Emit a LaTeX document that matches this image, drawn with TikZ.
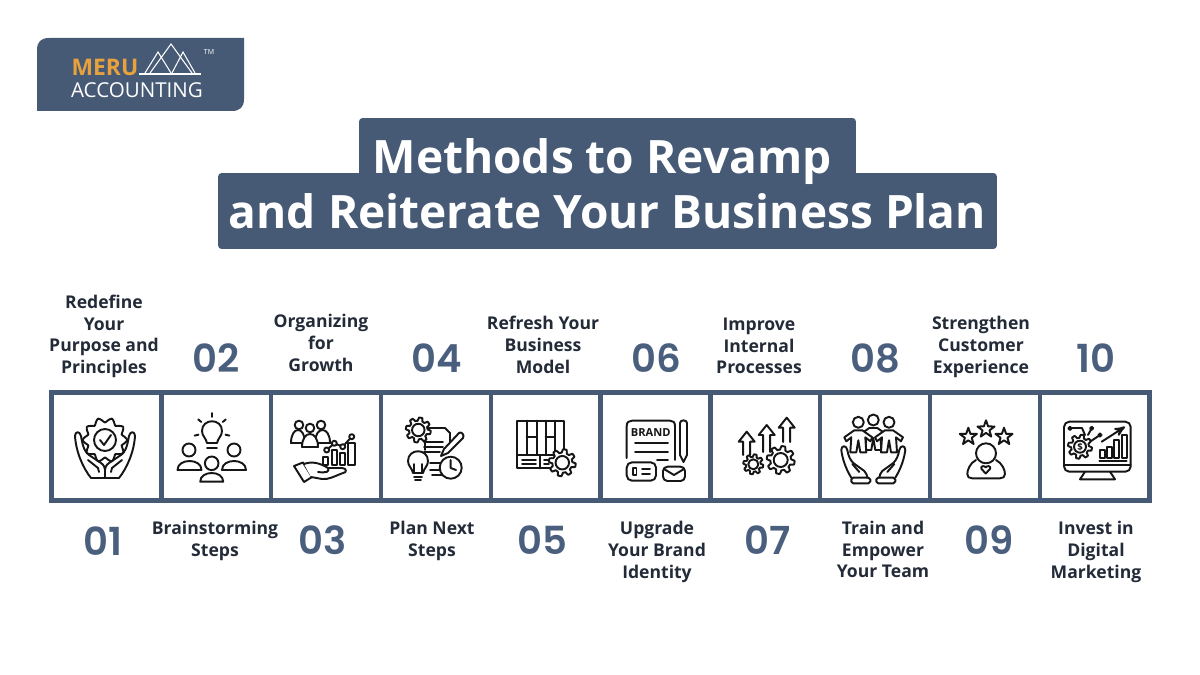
\documentclass[tikz,border=0pt]{standalone}
\usepackage{fontspec}
\setmainfont{Open Sans}
\newfontfamily\numfont{Poppins SemiBold}
\usetikzlibrary{arrows}
\definecolor{slateblue}{HTML}{465A76}
\definecolor{numblue}{HTML}{4A5F7D}
\definecolor{labelblue}{HTML}{232B38}
\definecolor{meruorange}{HTML}{E9A23B}
\definecolor{iconink}{HTML}{161616}
\tikzset{
 iconline/.style={iconink, line width=1.1pt, line join=round, line cap=round},
 cellbox/.style={draw=slateblue, line width=.085cm, fill=white, minimum width=2.196cm, minimum height=2.16cm, inner sep=0pt},
 banner/.style={fill=slateblue, rounded corners=2pt, inner sep=0pt},
 titletext/.style={white, inner sep=0pt, font=\fontsize{26.2}{30}\selectfont\bfseries},
 steplabel/.style={labelblue, align=center, inner sep=0pt, font=\fontsize{10}{12.35}\selectfont\bfseries},
 stepnum/.style={numblue, inner sep=0pt, font=\numfont\fontsize{22}{24}\selectfont},
}
\newcommand{\gearicon}[3]{
 \draw[iconline, fill=white] plot[domain=0:360, samples=97]
  ({#1+#3*(.87+.13*max(-1,min(1,2*sin(8*\x))))*cos(\x)},{#2+#3*(.87+.13*max(-1,min(1,2*sin(8*\x))))*sin(\x)}) -- cycle;
 \draw[iconline] (#1,#2) circle ({.5*#3});
}
\newcommand{\domeicon}[4]{
 \draw[iconline, fill=white] ({#1-#3},#4) .. controls ({#1-#3},{#4-(#4-#2)*4/3}) and ({#1+#3},{#4-(#4-#2)*4/3}) .. ({#1+#3},#4) -- cycle;
}
\newcommand{\staricon}[3]{
 \draw[iconline] plot[domain=0:360, samples=11] ({#1+#3*(.7+.3*cos(5*\x))*cos(\x-90)},{#2+#3*(.7+.3*cos(5*\x))*sin(\x-90)}) -- cycle;
}
\newcommand{\bulbicon}[3]{
 \draw[iconline, fill=white] ({#1-.5*#3},{#2+1.2*#3}) .. controls ({#1-.6*#3},{#2+.7*#3}) and ({#1-#3},{#2+.5*#3}) .. ({#1-#3},#2)
  .. controls ({#1-#3},{#2-1.3*#3}) and ({#1+#3},{#2-1.3*#3}) .. ({#1+#3},#2)
  .. controls ({#1+#3},{#2+.5*#3}) and ({#1+.6*#3},{#2+.7*#3}) .. ({#1+.5*#3},{#2+1.2*#3}) -- cycle;
}
\newcommand{\handicon}{
 \draw[iconline] (0,478) -- (-14,478) .. controls (-22,468) and (-29,452) .. (-30,436) .. controls (-30,431) and (-25,431) .. (-24,436)
  .. controls (-22,448) and (-20,452) .. (-16,455) -- (-4,463) .. controls (-1,465) and (0,468) .. (0,470);
 \draw[iconline] (-17,460) -- (-7,468) -- (-6,472);
}
\newcommand{\figureicon}[2]{
 \draw[iconline, fill=white] (#1,#2) circle (5.5);
 \draw[iconline, fill=white] ({#1-4},{#2+8}) -- ({#1-14},{#2+15}) -- ({#1-12},{#2+19}) -- ({#1-7},{#2+15}) -- ({#1-8},{#2+30})
  -- ({#1-2},{#2+30}) -- (#1,{#2+18}) -- ({#1+2},{#2+30}) -- ({#1+8},{#2+30}) -- ({#1+7},{#2+15}) -- ({#1+12},{#2+19}) -- ({#1+14},{#2+15}) -- ({#1+4},{#2+8}) -- cycle;
}
\newcommand{\uparrowicon}[3]{
 \draw[iconline] ({#1-3.5},#3) -- ({#1-3.5},{#2+10}) -- ({#1-8},{#2+10}) -- (#1,#2) -- ({#1+8},{#2+10}) -- ({#1+3.5},{#2+10}) -- ({#1+3.5},#3);
}
\begin{document}
\begin{tikzpicture}[x=.02cm, y=-.02cm]
\useasboundingbox (0,0) rectangle (1200,675);
\fill[white] (0,0) rectangle (1200,675);

% logo
\fill[slateblue] (37,50) .. controls (37,42) and (41,38) .. (49,38) -- (244,38) -- (244,99)
 .. controls (244,107) and (240,111) .. (232,111) -- (37,111) -- cycle;
\node[meruorange, inner sep=0pt, font=\fontsize{13}{15}\selectfont\bfseries] (logomeru) at (105,67) {MERU};
\node[white, inner sep=0pt, font=\fontsize{11.7}{13}\selectfont] (logoname) at (137,90.5) {ACCOUNTING};
\node[white, inner sep=0pt, font=\fontsize{4}{5}\selectfont] (logotm) at (209,52) {TM};
\draw[white, line width=.7pt] (139,74) -- (201,74);
\draw[white, line width=.6pt] (145,73) -- (158,52) -- (171,73) (150,73) -- (171,44) -- (192,73);
\draw[white, line width=.6pt] (172,73) -- (183,52) -- (195,73);

% title
\node[banner, minimum width=9.94cm, minimum height=1.2cm] (bannertop) at (607.5,148) {};
\node[banner, minimum width=15.58cm, minimum height=1.52cm] (bannerbottom) at (607.5,211) {};
\node[titletext] (titleone) at (602,161.5) {Methods to Revamp};
\node[titletext] (titletwo) at (607.5,211) {and Reiterate Your Business Plan};

% boxes
\foreach \n in {1,...,10} {
 \node[cellbox] (box\n) at ({106.5+(\n-1)*109.8},446.5) {};
}

% labels above and below the boxes
\foreach \n/\x/\y/\txt in {
 1/104/336.5/{Redefine\\Your\\Purpose and\\Principles},
 3/321/343/{Organizing\\for\\Growth},
 5/543/345/{Refresh Your\\Business\\Model},
 7/759/346/{Improve\\Internal\\Processes},
 9/981/347/{Strengthen\\Customer\\Experience},
 2/215/541/{Brainstorming\\Steps},
 4/432/541/{Plan Next\\Steps},
 6/657/552/{Upgrade\\Your Brand\\Identity},
 8/883/549.5/{Train and\\Empower\\Your Team},
 10/1096/552/{Invest in\\Digital\\Marketing}} {
 \node[steplabel] (label\n) at (\x,\y) {\txt};
}
\foreach \n/\x/\y in {01/103/541, 02/216/358, 03/323/540, 04/437/358, 05/542/540,
 06/656/358, 07/768/540, 08/875/358, 09/989/540, 10/1096/358} {
 \node[stepnum] (num\n) at (\x,\y) {\n};
}

% icon 1
\draw[iconline] plot[domain=0:360, samples=41, smooth] ({105+(20+2.5*cos(10*\x))*cos(\x)},{440+(20+2.5*cos(10*\x))*sin(\x)}) -- cycle;
\draw[iconline] (105,440) circle (11);
\draw[iconline] (100,440) -- (104,445) -- (111,435);
\foreach \s in {1,-1} {
 \begin{scope}[shift={(105,0)}, xscale=\s]
 \handicon
 \end{scope}
}
\draw[iconline] (105,467) -- (105,478);

% icon 2
\bulbicon{212}{431}{10}
\draw[iconline] (207,448) -- (217,448);
\foreach \a in {-140,-90,-40,15,165} {
 \draw[iconline] ({212+14*cos(\a)},{431+14*sin(\a)}) -- ({212+18*cos(\a)},{431+18*sin(\a)});
}
\draw[iconline] (189,450) circle (6.5) (234,450) circle (6.5);
\domeicon{189.5}{461}{12}{470}
\domeicon{234}{461}{12}{470}
\draw[iconline, fill=white] (211.7,463.3) circle (6.8);
\domeicon{211.7}{473}{11.5}{481.7}

% icon 3
\draw[iconline] (299,425) circle (4.3) (321,425) circle (4.3);
\domeicon{298}{430}{7}{443}
\domeicon{322.5}{430}{7.5}{443}
\draw[iconline, fill=white] (310,428) circle (4.3);
\domeicon{310}{434}{8}{447}
\foreach \l/\t/\r in {323/456.7/328, 332/450/337, 340/453/345, 348/443/355} {
 \draw[iconline, fill=white] (\l,\t) rectangle (\r,465);
}
\draw[iconline] (326.7,450) -- (334.3,443.3) -- (342.7,446.7) -- (351.7,436.7);
\foreach \x/\y in {326.7/450, 334.3/443.3, 342.7/446.7, 351.7/436.7} {
 \draw[iconline, fill=white] (\x,\y) circle (2.5);
}
\draw[iconline] (294,466) -- (303,462.5) -- (312,477) -- (304,482) -- cycle;
\draw[iconline, fill=white] (304,464) .. controls (312,461) and (320,463) .. (328,468) -- (342,468)
 .. controls (347,468) and (347,473) .. (343,473) .. controls (335,476) and (328,480) .. (322,479) -- (311,477);
\draw[iconline] (328,468) .. controls (330,472) and (326,473) .. (318,472);

% icon 4
\draw[iconline] (425,428) -- (445,428) -- (450,433) -- (450,450) (425,428) -- (425,450) (432,475) -- (450,475);
\draw[iconline] (424,441.7) -- (443,441.7) (424,447) -- (443,447) (424,451.7) -- (440,451.7) (430,463) -- (442,463) (430,470) -- (442,470);
\gearicon{418.3}{430}{12.5}
\draw[iconline, fill=white] (441,456) -- (444,449) -- (459,433) .. controls (461,431) and (465,435) .. (463,438) -- (448,453) -- cycle;
\bulbicon{418}{461}{10}
\draw[iconline] (414,473) -- (414,464) (422,473) -- (422,464) (414,477) -- (422,477) (415,480) -- (421,480);
\draw[iconline, fill=white] (450.7,467.7) circle (11);
\draw[iconline] (450.7,460) -- (450.7,468) -- (456,470);

% icon 5
\draw[iconline] (517.3,420.7) rectangle (564.3,468.3);
\draw[iconline] (526.7,420.7) -- (526.7,455) (536.7,420.7) -- (536.7,455) (545.7,420.7) -- (545.7,455) (555,420.7) -- (555,455);
\draw[iconline] (517.3,455) -- (564.3,455) (526.7,436.7) -- (536.7,436.7) (545.7,436.7) -- (555,436.7);
\draw[iconline] (540,455) -- (540,468.3) (522,460) -- (536,460) (522,464) -- (536,464) (544,460) -- (549,460) (544,464) -- (549,464);
\gearicon{562.3}{462.7}{13.5}

% icon 6
\draw[iconline] (626.7,458) -- (626.7,426) .. controls (626.7,422) and (629,420.7) .. (632,420.7) -- (670,420.7) .. controls (673,420.7) and (675,422) .. (675,426) -- (675,460);
\node[iconink, inner sep=0pt, font=\fontsize{6.3}{7}\selectfont\bfseries] (brandword) at (650.7,432.7) {BRAND};
\draw[iconline] (635,443.3) -- (668,443.3) (635,451.7) -- (668,451.7) (657,460) -- (668,460);
\draw[iconline] (680,423) .. controls (680,419.5) and (687,419.5) .. (687,423) -- (687,455) -- (683.5,462) -- (680,455) -- cycle;
\draw[iconline, rounded corners=3pt] (626.7,462.3) rectangle (656,480.7);
\draw[iconline] (633,468.3) rectangle (636.5,475) (642,469.3) -- (650,469.3) (642,474.3) -- (650,474.3);
\draw[iconline, rounded corners=2.5pt] (663,466.7) rectangle (685,481);
\draw[iconline] (664,469) -- (674,475) -- (684,469);

% icon 7
\uparrowicon{746.7}{431.7}{455}
\uparrowicon{766.7}{425}{452}
\uparrowicon{786.7}{417.7}{442}
\gearicon{753.3}{464.3}{10}
\gearicon{780.7}{460}{14}

% icon 8
\figureicon{873.3}{420}
\figureicon{858.3}{422.3}
\figureicon{889}{422.3}
\foreach \s in {1,-1} {
 \begin{scope}[shift={(873.3,0)}, xscale=\s]
 \draw[iconline] (-22,477.7) .. controls (-28,468) and (-31,458) .. (-32,450) .. controls (-32,445) and (-27,445) .. (-26,450)
  .. controls (-25,456) and (-23,460) .. (-20,463) -- (-9,471) .. controls (-7,473) and (-6,476) .. (-6,477.7);
 \draw[iconline, rounded corners=1pt] (-22,477.7) rectangle (-3,483.3);
 \draw[iconline] (-21,464) -- (-14,472);
 \end{scope}
}

% icon 9
\staricon{968.3}{436.7}{9}
\staricon{986}{429.3}{9}
\staricon{1004}{436.7}{9}
\draw[iconline] (986,453.3) circle (10);
\draw[iconline] (976,460) .. controls (970,463) and (967.3,470) .. (967.3,474) .. controls (967.3,477) and (969,478.3) .. (972,478.3) -- (1000,478.3)
 .. controls (1003,478.3) and (1005,477) .. (1005,474) .. controls (1005,470) and (1002,463) .. (996,460);
\draw[iconline] (985.7,473.5) -- (981.5,469) .. controls (980,466) and (984.5,465) .. (985.7,467.5) .. controls (987,465) and (991.5,466) .. (990,469) -- cycle;

% icon 10
\draw[iconline, rounded corners=3pt] (1064,421.7) rectangle (1130.7,471.7);
\draw[iconline] (1064,465) -- (1130.7,465);
\draw[iconline] (1085,471.7) -- (1080,479.3) -- (1115,479.3) -- (1110,471.7);
\draw[iconline] (1072,428) -- (1082,428) -- (1085,435) (1091.7,428.3) -- (1088,435) (1100,435) -- (1091,441);
\foreach \x/\y in {1070/428.3, 1091.7/428.3, 1100/435} {
 \draw[iconline, fill=white] (\x,\y) circle (1.6);
}
\gearicon{1080}{446.7}{12}
\node[iconink, inner sep=0pt, font=\fontsize{5.5}{6}\selectfont\bfseries] (dollar) at (1080,446.7) {\$};
\foreach \l/\t/\r in {1100/450/1105, 1106.7/446.7/1111.7, 1114/440/1119, 1121.7/435/1126.7} {
 \draw[iconline] (\l,458.3) -- (\l,\t) -- (\r,\t) -- (\r,458.3) -- cycle;
}
\draw[iconline] (1099.3,461) -- (1126.7,461);
\draw[iconline, ->, >=stealth'] (1101.7,441.7) -- (1125,426.7);
\end{tikzpicture}
\end{document}
